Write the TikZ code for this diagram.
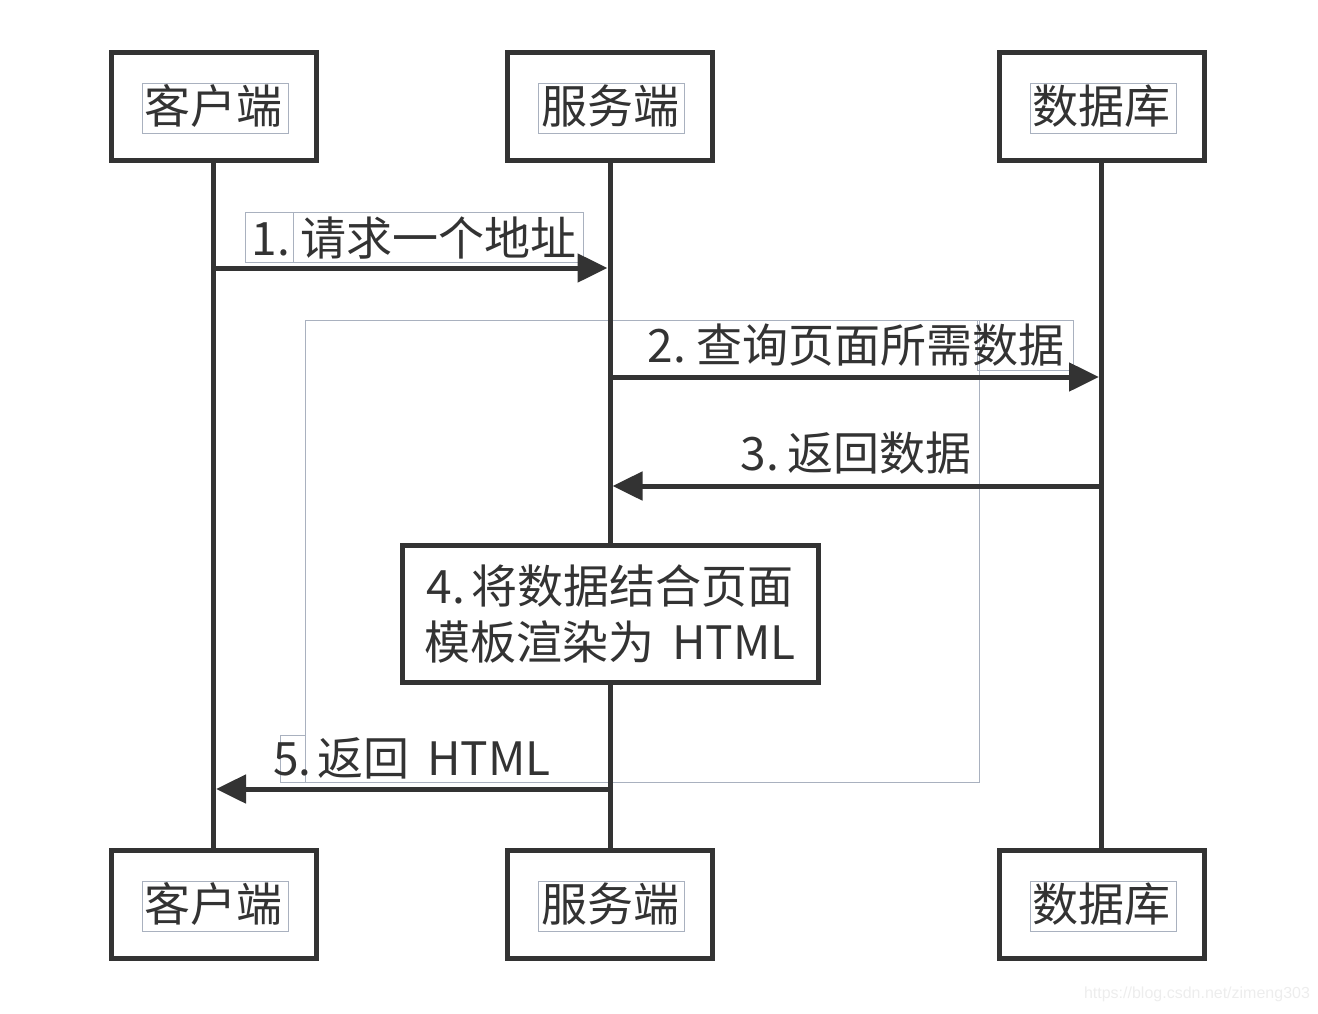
\documentclass[tikz,border=0pt]{standalone}
\usepackage{fontspec}
\newfontfamily\cjk{Noto Sans CJK SC}
\setsansfont{Liberation Sans}
\usetikzlibrary{arrows.meta}
\definecolor{dark}{HTML}{333333}
\definecolor{ghostc}{HTML}{A9B1BF}
\definecolor{wm}{HTML}{EDEDED}
\begin{document}
\begin{tikzpicture}[x=1pt,y=-1pt,
  actor/.style={draw=dark, line width=5pt, minimum width=205pt, minimum height=108pt, inner sep=0pt,
    font=\cjk\fontsize{46}{52}\selectfont, text=dark},
  life/.style={draw=dark, line width=5pt},
  msg/.style={draw=dark, line width=5pt, -{Triangle[length=30pt,width=28pt]}, shorten >=2.5pt},
  lbl/.style={inner sep=0pt, text=dark, font=\cjk\fontsize{46}{52}\selectfont},
  actbox/.style={draw=dark, line width=5pt, fill=white, minimum width=416pt, minimum height=137pt,
    inner sep=0pt, align=center, text=dark, font=\cjk\fontsize{46}{56}\selectfont},
  ghost/.style={draw=ghostc, line width=1pt}]
\useasboundingbox (0,0) rectangle (1318,1013);

% ghost rectangles
\draw[ghost] (142,83) rectangle (288,133);
\draw[ghost] (538,83) rectangle (684,133);
\draw[ghost] (1030,83) rectangle (1176,133);
\draw[ghost] (142,881) rectangle (288,931);
\draw[ghost] (538,881) rectangle (684,931);
\draw[ghost] (1030,881) rectangle (1176,931);
\draw[ghost] (245,212) rectangle (293,262);
\draw[ghost] (293,212) rectangle (583,262);
\draw[ghost] (977,320) rectangle (1073,370);
\draw[ghost] (280,735) rectangle (305,782);
\draw[ghost] (305,320) rectangle (979,782);

% actors
\node[actor] (c1) at (213.5,106) {客户端};
\node[actor] (s1) at (610,106) {服务端};
\node[actor] (d1) at (1101.5,106) {数据库};
\node[actor] (c2) at (213.5,904) {客户端};
\node[actor] (s2) at (610,904) {服务端};
\node[actor] (d2) at (1101.5,904) {数据库};

% lifelines
\draw[life] (c1.south) -- (c2.north);
\draw[life] (s1.south) -- (s2.north);
\draw[life] (d1.south) -- (d2.north);

% messages
\draw[msg] (c1.south |- 0,268) -- (s1.south |- 0,268);
\node[lbl] (l1) at (414,238) {1.\hspace{10pt}请求一个地址};

\draw[msg] (s1.south |- 0,377) -- (d1.south |- 0,377);
\node[lbl] (l2) at (856,345) {2.\hspace{10pt}查询页面所需数据};

\draw[msg] (d1.south |- 0,486) -- (s1.south |- 0,486);
\node[lbl] (l3) at (856,453) {3.\hspace{8pt}返回数据};

\node[actbox] (a4) at (610,613.5) {4.\hspace{6pt}将数据结合页面\\模板渲染为\hspace{18pt}HTML};

\draw[msg] (s1.south |- 0,789) -- (c1.south |- 0,789);
\node[lbl] (l5) at (412,758) {5.\hspace{6pt}返回\hspace{18pt}HTML};

% watermark
\node[inner sep=0pt, text=wm, font=\sffamily\fontsize{16}{18}\selectfont] (wmk) at (1197,994) {https://blog.csdn.net/zimeng303};
\end{tikzpicture}
\end{document}
